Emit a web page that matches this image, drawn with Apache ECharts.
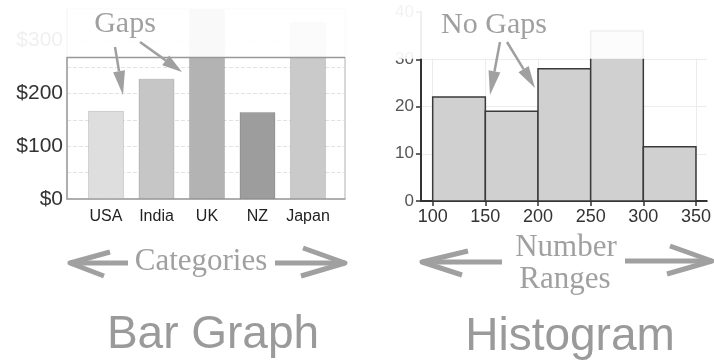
<!DOCTYPE html>
<html>
<head>
<meta charset="utf-8">
<script src="https://cdn.jsdelivr.net/npm/echarts@6/dist/echarts.min.js"></script>
<style>
  html, body { margin: 0; padding: 0; background: #fff; }
  #chart { width: 714px; height: 363px; }
</style>
</head>
<body>
<div id="chart"></div>
<script>
// bar graph
const categories = ['USA', 'India', 'UK', 'NZ', 'Japan']
const barValues = [167, 228, 360, 165, 336]
const barColors = ['#dedede', '#c6c6c6', '#b3b3b3', '#9d9d9d', '#cacaca']
const barTicks = [0, 100, 200, 300]
const barCutoff = 268   // picture is faded above this value

// histogram
const binStart = [100, 150, 200, 250, 300]
const binEnd = [150, 200, 250, 300, 350]
const binCounts = [22, 19, 28, 36, 11.5]
const histTicks = [100, 150, 200, 250, 300, 350]
const histCutoff = 30

const GREY = '#a0a0a0'
const FADE = 'rgba(255,255,255,0.92)'

// arrow with a filled head, for the "Gaps" notes
function thinArrow(x1, y1, x2, y2, headLen, headW) {
  const dx = x2 - x1, dy = y2 - y1
  const len = Math.sqrt(dx * dx + dy * dy)
  const ux = dx / len, uy = dy / len
  const bx = x2 - ux * headLen, by = y2 - uy * headLen
  return [
    { type: 'line', z: 200, shape: { x1, y1, x2: bx, y2: by }, style: { stroke: GREY, lineWidth: 2.5 } },
    {
      type: 'polygon', z: 200,
      shape: { points: [[x2, y2], [bx - uy * headW, by + ux * headW], [bx + uy * headW, by - ux * headW]] },
      style: { fill: GREY },
    },
  ]
}

// thick arrow with an open head, under the axes
function fatArrow(x1, x2, y, arms) {
  return [
    { type: 'line', z: 200, shape: { x1, y1: y, x2, y2: y }, style: { stroke: GREY, lineWidth: 5 } },
    { type: 'polyline', z: 200, shape: { points: [arms[0], [x2, y], arms[1]] }, style: { stroke: GREY, lineWidth: 5, fill: null, lineJoin: 'round' } },
  ]
}

function note(text, x, y, size) {
  return {
    type: 'text', z: 200, x, y,
    style: {
      text, fill: GREY, font: `${size}px "Liberation Serif", serif`,
      textAlign: 'center', textVerticalAlign: 'middle',
    },
  }
}

function title(text, x, y) {
  return {
    type: 'text', z: 200, x, y,
    style: { text, fill: '#9a9a9a', font: '46px "Liberation Sans", Arial, sans-serif', textAlign: 'center', textVerticalAlign: 'middle' },
  }
}

const chart = echarts.init(document.getElementById('chart'), null, { renderer: 'canvas' })

const option = {
  animation: false,
  backgroundColor: '#fff',
  textStyle: { fontFamily: '"Liberation Sans", Arial, sans-serif' },
  grid: [
    { left: 67, width: 278, top: 9, height: 190, show: true, borderColor: '#b0b0b0', borderWidth: 1 },
    { left: 421, right: 0, top: 12, height: 189 },
  ],
  xAxis: [
    {
      type: 'value', gridIndex: 0, min: -0.772, max: 4.733,
      axisLine: { onZero: false, lineStyle: { color: '#a0a0a0', width: 1.5 } },
      axisTick: { show: false },
      splitLine: { show: false },
      axisLabel: {
        customValues: categories.map((_, i) => i),
        formatter: v => categories[v] || '',
        color: '#222', fontSize: 16, margin: 10,
      },
    },
    {
      type: 'value', gridIndex: 1, min: 88.9, max: 360.2,
      axisLine: { onZero: false, lineStyle: { color: '#333', width: 2 } },
      axisTick: { show: true, customValues: histTicks, length: 5, lineStyle: { color: '#333', width: 1.5 } },
      splitLine: { show: true, lineStyle: { color: '#ececec' } },
      axisLabel: { customValues: histTicks, color: '#333', fontSize: 18, margin: 7 },
    },
  ],
  yAxis: [
    {
      type: 'value', gridIndex: 0, min: 0, max: 360, interval: 50,
      axisLine: { show: true, onZero: false, lineStyle: { color: '#a0a0a0', width: 1.5 } },
      axisTick: { show: false },
      splitLine: { lineStyle: { color: '#e2e2e2', type: 'dashed' } },
      axisLabel: {
        formatter: v => barTicks.includes(v) ? '$' + v : '',
        color: '#333', fontSize: 21, margin: 4,
      },
    },
    {
      type: 'value', gridIndex: 1, min: 0, max: 40, interval: 10,
      axisLine: { show: true, onZero: false, lineStyle: { color: '#333', width: 2 } },
      axisTick: { show: true, length: 5, lineStyle: { color: '#333', width: 1.5 } },
      splitLine: { lineStyle: { color: '#ececec' } },
      axisLabel: { color: '#555', fontSize: 17, margin: 7 },
    },
  ],
  series: [
    {
      type: 'bar', xAxisIndex: 0, yAxisIndex: 0,
      barWidth: 36,
      data: barValues.map((v, i) => ({ value: [i, v], itemStyle: { color: barColors[i] } })),
      itemStyle: { borderColor: 'rgba(0,0,0,0.12)', borderWidth: 1 },
    },
    {
      type: 'custom', xAxisIndex: 1, yAxisIndex: 1,
      data: binCounts.map((c, i) => [binStart[i], binEnd[i], c]),
      encode: { x: [0, 1], y: 2 },
      clip: true,
      renderItem: (params, api) => {
        const top = api.coord([api.value(0), api.value(2)])
        const bottom = api.coord([api.value(1), 0])
        return {
          type: 'rect',
          shape: { x: top[0], y: top[1], width: bottom[0] - top[0], height: bottom[1] - top[1] },
          style: { fill: '#d0d0d0', stroke: '#3a3a3a', lineWidth: 1.5 },
        }
      },
    },
  ],
}

chart.setOption(option)

// fade the top of both pictures, edge placed through the axes
const barEdge = chart.convertToPixel({ yAxisIndex: 0 }, barCutoff)
const histEdge = chart.convertToPixel({ yAxisIndex: 1 }, histCutoff)
const barLeft = chart.convertToPixel({ xAxisIndex: 0 }, -0.772)
const barRight = chart.convertToPixel({ xAxisIndex: 0 }, 4.733)

chart.setOption({
  graphic: [
    { type: 'rect', z: 100, shape: { x: 0, y: 0, width: 360, height: barEdge - 0.5 }, style: { fill: FADE } },
    { type: 'rect', z: 100, shape: { x: 360, y: 0, width: 354, height: histEdge - 0.5 }, style: { fill: FADE } },
    { type: 'line', z: 101, shape: { x1: barLeft, y1: barEdge, x2: barRight, y2: barEdge }, style: { stroke: '#999', lineWidth: 1.5 } },

    note('Gaps', 125, 24, 30),
    ...thinArrow(115, 47, 123, 95, 24, 6),
    ...thinArrow(140, 42, 182, 72, 20, 6),

    note('No Gaps', 494, 25, 30),
    ...thinArrow(500, 42, 490, 95, 24, 6),
    ...thinArrow(507, 42, 535, 88, 22, 6),

    ...fatArrow(128, 70, 263, [[110, 252], [104, 276]]),
    note('Categories', 201, 262, 31),
    ...fatArrow(275, 345, 263, [[303, 248], [301, 276]]),

    ...fatArrow(502, 422, 262, [[468, 251], [462, 275]]),
    note('Number', 566, 248, 31),
    note('Ranges', 565, 280, 31),
    ...fatArrow(625, 712, 261, [[670, 246], [667, 274]]),

    title('Bar Graph', 213, 335),
    title('Histogram', 570, 337),
  ],
})
</script>
</body>
</html>
